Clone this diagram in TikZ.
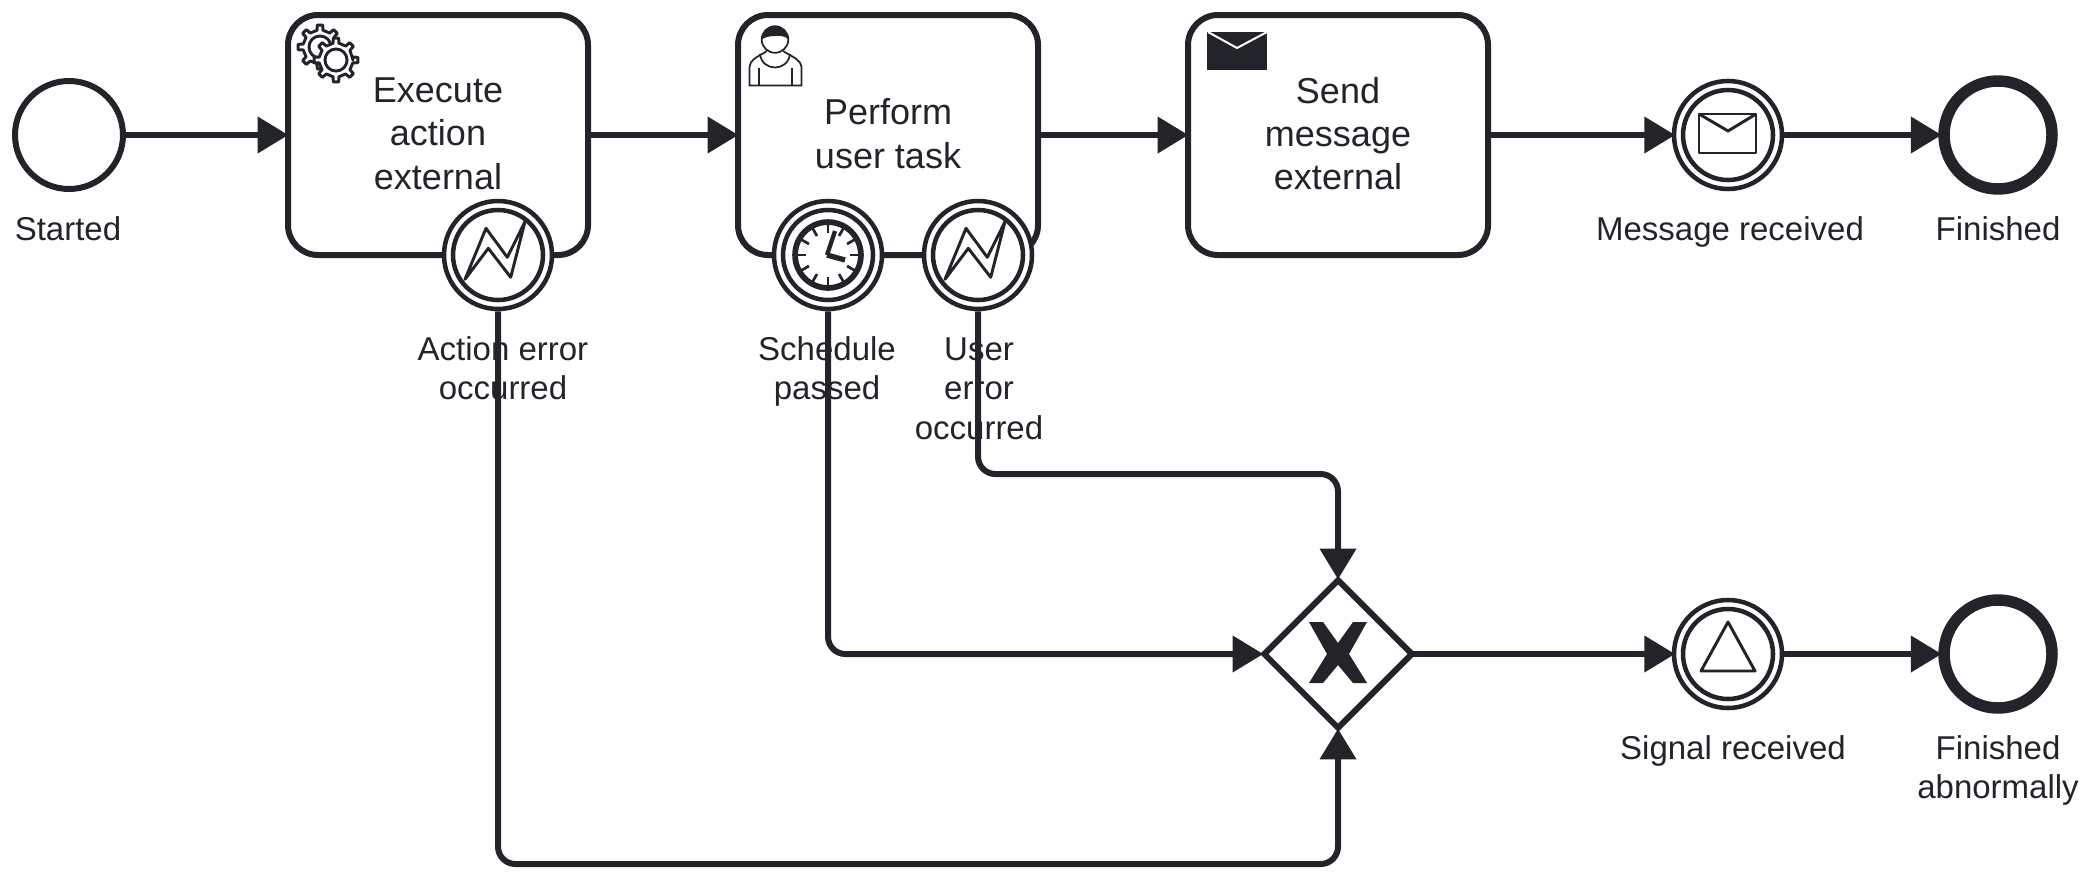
\documentclass[tikz,border=0pt]{standalone}
\usepackage{fontspec}
\setmainfont{Liberation Sans}
\usetikzlibrary{arrows.meta,shapes.geometric,calc}
\definecolor{bpmnink}{RGB}{34,36,42}
\tikzset{
  flow/.style={line width=4.5pt,draw=bpmnink,-{Triangle[length=23pt,width=26.5pt]},rounded corners=13pt,shorten >=-2.5pt},
  tasknode/.style={draw=bpmnink,fill=white,line width=4.5pt,rectangle,rounded corners=22.5pt,minimum width=225pt,minimum height=180pt,inner sep=0pt,text=bpmnink,align=center,font=\fontsize{27}{32.5}\selectfont},
  startev/.style={circle,draw=bpmnink,fill=white,line width=4.5pt,minimum size=81pt,inner sep=0pt},
  endev/.style={circle,draw=bpmnink,fill=white,line width=8.6pt,minimum size=81pt,inner sep=0pt},
  catchev/.style={circle,draw=bpmnink,fill=white,line width=3.4pt,minimum size=81pt,inner sep=0pt},
  ring/.style={draw=bpmnink,line width=3.4pt},
  glyph/.style={draw=bpmnink,line width=2.2pt,line join=round},
  lbl/.style={text=bpmnink,align=center,font=\fontsize{24.75}{29.7}\selectfont},
}
\newcommand{\innerring}[1]{\draw[ring] (#1) circle (33.75pt);}
\newcommand{\errorglyph}[1]{%
  \draw[glyph] ($(#1)+(-33,24.3)$) -- ++(21,-51) -- ++(21.3,29) -- ++(17.7,-35.6) -- ++(-14.3,55.6) -- ++(-22.4,-29) -- cycle;}
\newcommand{\gearicon}[3]{%
  \draw[draw=bpmnink,fill=white,line width=2.2pt,line join=round]
    (#1,#2) ++(0:#3) \foreach \a in {0,45,...,315} {
      -- ($(#1,#2)+(\a-10:#3)$) -- ($(#1,#2)+(\a-7:1.3*#3)$) -- ($(#1,#2)+(\a+7:1.3*#3)$) -- ($(#1,#2)+(\a+10:#3)$)
    } -- cycle;
  \draw[draw=bpmnink,line width=2.2pt] (#1,#2) circle (0.65*#3);}
\begin{document}
\begin{tikzpicture}[x=0.75pt,y=-0.75pt]
  \useasboundingbox (0,0) rectangle (2097,879);

  % tasks
  \node[tasknode] (action) at (438,135) {Execute\\action\\external\\[-30pt]};
  \node[tasknode] (user) at (888,135) {Perform\\user task\\[-30pt]};
  \node[tasknode] (send) at (1338,135) {Send\\message\\external\\[-30pt]};

  % events
  \node[startev] (started) at (69,135) {};
  \node[catchev] (message) at (1728,135) {};
  \node[endev] (finished) at (1998,135) {};
  \node[catchev] (signal) at (1728,654) {};
  \node[endev] (abnormal) at (1998,654) {};
  \node[catchev] (actionerr) at (498,255) {};
  \node[catchev] (schedule) at (828,255) {};
  \node[catchev] (usererr) at (978,255) {};
  \node[diamond,draw=bpmnink,fill=white,line width=4.5pt,minimum size=112.5pt,inner sep=0pt,aspect=1] (gate) at (1338,654) {};

  \foreach \n in {actionerr,schedule,usererr,message,signal} {\innerring{\n}}

  % sequence flows
  \draw[flow] (started) -- (action);
  \draw[flow] (action) -- (user);
  \draw[flow] (user) -- (send);
  \draw[flow] (send) -- (message);
  \draw[flow] (message) -- (finished);
  \draw[flow,shorten <=-3pt] (gate) -- (signal);
  \draw[flow] (signal) -- (abnormal);
  \draw[flow] (actionerr.south) -- (498,864) -- (1338,864) -- (gate.south);
  \draw[flow] (schedule.south) -- (828,654) -- (gate.west);
  \draw[flow] (usererr.south) -- (978,474) -- (1338,474) -- (gate.north);

  % gateway cross
  \fill[bpmnink] (1309,622) -- (1323,622) -- (1338,643) -- (1353,622) -- (1367,622) -- (1349,654) -- (1367,683) -- (1353,683) -- (1338,665) -- (1323,683) -- (1309,683) -- (1327,654) -- cycle;

  % icons
  \gearicon{320}{47}{17}
  \gearicon{336}{60}{17}
  \errorglyph{actionerr}
  \errorglyph{usererr}

  \draw[bpmnink,line width=4.3pt] (schedule) circle (24.7pt);
  \foreach \a in {0,30,...,330} {\draw[bpmnink,line width=2pt] ($(schedule)+(\a:22)$) -- ($(schedule)+(\a:31)$);}
  \draw[bpmnink,line width=3.2pt] ($(schedule)+(-1,0)$) -- ($(schedule)+(7,-24)$);
  \draw[bpmnink,line width=4pt] ($(schedule)+(-1,0)$) -- ($(schedule)+(17,5)$);

  \draw[bpmnink,line width=1.3pt,fill=white] (749.5,85.5) -- (749.5,67) .. controls (750,60) and (757,57) .. (762,54) .. controls (768,51) and (768,50) .. (766,47) -- (784,47) .. controls (782,50) and (782,51) .. (788,54) .. controls (793,57) and (801,60) .. (801.5,67) -- (801.5,85.5) -- cycle;
  \draw[bpmnink,line width=1.3pt,fill=white] (775,39.5) circle (13.3);
  \fill[bpmnink] (761.7,39.5) arc (180:360:13.3) .. controls (785,35) and (778,36) .. (775,36) .. controls (770,36) and (765,37) .. (761.7,39.5) -- cycle;
  \draw[bpmnink,line width=1.3pt] (760,54) .. controls (762,72) and (788,72) .. (790,54);
  \draw[bpmnink,line width=1.3pt] (759,68) -- (759,85.5) (792,68) -- (792,85.5);

  \fill[bpmnink] (1207,32) rectangle (1267,70);
  \draw[white,line width=1.5pt] (1208,32) -- (1237,48) -- (1267,32);

  \draw[glyph] (1699,114) rectangle (1756,153);
  \draw[glyph] (1699,114) -- (1728,131) -- (1756,114);

  \draw[glyph] (1728,622) -- (1755,671) -- (1701,671) -- cycle;

  % labels
  \node[lbl] (tstarted) at (68,229) {Started};
  \node[lbl] (taction) at (503,368) {Action error\\occurred};
  \node[lbl] (tschedule) at (827,371.5) {Schedule\\passed};
  \node[lbl] (tuser) at (979,388.5) {User\\error\\occurred};
  \node[lbl] (tmessage) at (1730,232) {Message received};
  \node[lbl] (tfinished) at (1998,229) {Finished};
  \node[lbl] (tsignal) at (1733,751) {Signal received};
  \node[lbl] (tabnormal) at (1998,770.5) {Finished\\abnormally};
\end{tikzpicture}
\end{document}
